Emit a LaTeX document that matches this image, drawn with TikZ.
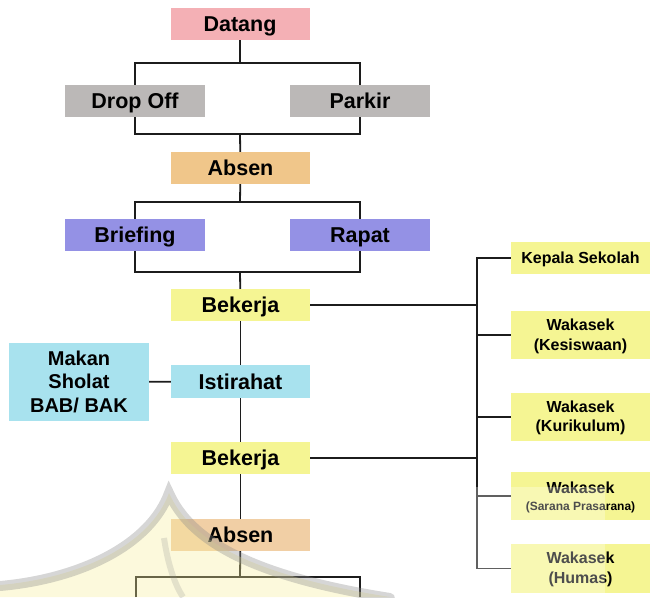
\documentclass[tikz,border=0pt]{standalone}
\usepackage{fontspec}
\setmainfont{Liberation Sans}
\definecolor{cPink}{HTML}{F4B0B5}
\definecolor{cGrey}{HTML}{BBB8B7}
\definecolor{cOrange}{HTML}{F0C68A}
\definecolor{cOrangeLight}{HTML}{F1CFA5}
\definecolor{cViolet}{HTML}{9491E5}
\definecolor{cYellow}{HTML}{F5F593}
\definecolor{cCyan}{HTML}{A8E2EE}
\definecolor{cLine}{HTML}{1C1C1C}
\definecolor{cMarkFill}{HTML}{F7EE9A}
\definecolor{cMarkBand}{HTML}{8A8A8A}
\begin{document}
\begin{tikzpicture}[x=1pt,y=-1pt,
  box/.style={inner sep=0pt, font=\bfseries\fontsize{21.5}{25}\selectfont,
              text height=15.4pt, text depth=0pt},
  mainbox/.style={box, minimum width=139pt, minimum height=32pt},
  sidebox/.style={box, minimum width=140pt, minimum height=32pt},
  staff/.style={fill=cYellow, inner sep=0pt, minimum width=139pt,
                minimum height=48pt, align=center, text depth=0pt,
                font=\bfseries\fontsize{16}{19.5}\selectfont},
  link/.style={draw=cLine, line width=1.8pt},
]
\useasboundingbox (0,0) rectangle (652,597);

% main flow
\node[mainbox, fill=cPink]   (datang)   at (240,24)  {Datang};
\node[sidebox, fill=cGrey]   (dropoff)  at (135,101) {Drop Off};
\node[sidebox, fill=cGrey]   (parkir)   at (360,101) {Parkir};
\node[mainbox, fill=cOrange] (absen1)   at (240.5,168) {Absen};
\node[sidebox, fill=cViolet] (briefing) at (135,235) {Briefing};
\node[sidebox, fill=cViolet] (rapat)    at (360,235) {Rapat};
\node[mainbox, fill=cYellow] (bekerja1) at (240.5,305) {Bekerja};
\node[mainbox, fill=cCyan, minimum height=33pt] (istirahat) at (240.5,381.5) {Istirahat};
\node[fill=cCyan, inner sep=0pt, minimum width=140pt, minimum height=78pt,
      align=center, text height=60pt, text depth=0pt,
      font=\bfseries\fontsize{20}{23.5}\selectfont]
      (makan) at (79,382) {Makan\\Sholat\\BAB/ BAK};
\node[mainbox, fill=cYellow] (bekerja2) at (240.5,458) {Bekerja};
\node[mainbox, fill=cOrangeLight] (absen2) at (240.5,535) {Absen};

% staff column
\node[staff, minimum height=32pt, text height=11.4pt] (kepala) at (580.5,258) {Kepala Sekolah};
\node[staff, text height=30pt] (kesiswaan) at (580.5,335) {Wakasek\\(Kesiswaan)};
\node[staff, text height=29.5pt] (kurikulum) at (580.5,417) {Wakasek\\(Kurikulum)};
\node[staff, text height=28pt, font=\bfseries\fontsize{16}{16.7}\selectfont]
      (sarana) at (580.5,496) {Wakasek\\{\fontsize{12}{14}\selectfont(Sarana Prasarana)}};
\node[staff, minimum height=49pt, text height=29pt] (humas) at (580.5,568.5) {Wakasek\\(Humas)};

% junction points
\coordinate (split1) at (240,63);
\coordinate (join1)  at (240,134);
\coordinate (split2) at (240,202);
\coordinate (join2)  at (240,272);
\coordinate (split3) at (240,577);
\coordinate (legL)   at (136,597);
\coordinate (legR)   at (360,597);
\coordinate (hubA)   at (477,305);
\coordinate (hubB)   at (477,458);

% connectors
\draw[link] (datang) -- (split1);
\draw[link] (dropoff) |- (split1) -| (parkir);
\draw[link] (dropoff) |- (join1) -| (parkir);
\draw[link] (join1) -- (absen1);
\draw[link] (absen1) -- (split2);
\draw[link] (briefing) |- (split2) -| (rapat);
\draw[link] (briefing) |- (join2) -| (rapat);
\draw[link] (join2) -- (bekerja1);
\draw[link] (bekerja1) -- (istirahat);
\draw[link] (makan) -- (istirahat);
\draw[link] (istirahat) -- (bekerja2);
\draw[link] (bekerja2) -- (absen2);
\draw[link] (absen2) -- (split3);
\draw[link] (legL) |- (split3) -| (legR);

\draw[link] (bekerja1) -- (hubA);
\draw[link] (bekerja2) -- (hubB);
\draw[link] (kepala) -| (hubA) |- (humas);
\draw[link] (kesiswaan) -- (kesiswaan -| hubA);
\draw[link] (kurikulum) -- (kurikulum -| hubA);
\draw[link] (sarana) -- (sarana -| hubA);

% faint roof emblem in the lower part
\fill[cMarkFill, opacity=0.35]
  (169,493) .. controls (150,545) and (80,578) .. (0,585) -- (0,597) -- (390,597)
  .. controls (250,575) and (190,540) .. (169,493) -- cycle;
\draw[cMarkBand, opacity=0.35, line width=10pt, line cap=round]
  (0,586) .. controls (80,579) and (150,545) .. (169,493)
  .. controls (190,540) and (250,576) .. (390,598);
\draw[cMarkBand, opacity=0.22, line width=6pt]
  (164,538) .. controls (168,565) and (175,585) .. (183,597);
\fill[white, opacity=0.3] (470,487) rectangle (605,597);
\end{tikzpicture}
\end{document}
